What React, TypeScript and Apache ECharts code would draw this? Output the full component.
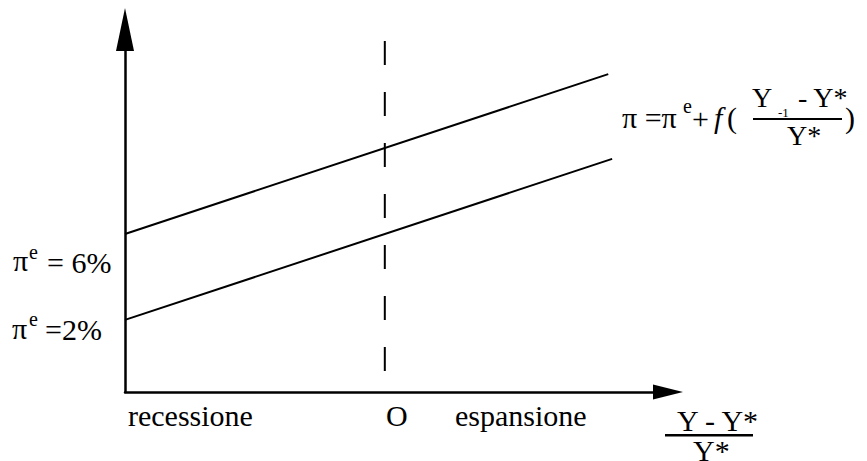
import React, { useEffect, useRef } from "react";
import * as echarts from "echarts";

// Output gap axis: (Y - Y*)/Y*, O = 0
const xRange = [-1, 1.09];
const yRange = [0, 10];
// Phillips curve with expected inflation 6% (upper) and 2% (lower)
const upperCurve: [number, number][] = [
  [-1, 4.36],
  [0.86, 8.77],
];
const lowerCurve: [number, number][] = [
  [-1, 1.99],
  [0.875, 6.43],
];
const zeroLine: [number, number][] = [
  [0, 0.58],
  [0, 9.77],
];
const bottomLabels = ["recessione", "O", "espansione"];

function txt(text: string, x: number, y: number, size = 30, italic = false) {
  const style: any = {
    text,
    fill: "#000",
    fontFamily: "Liberation Serif",
    fontSize: size,
    verticalAlign: "middle",
    align: "left",
  };
  if (italic) style.fontStyle = "italic";
  return { type: "text", x, y, style };
}

function bar(x: number, y: number, w: number, h: number) {
  return { type: "rect", shape: { x, y, width: w, height: h }, style: { fill: "#000" } };
}

export default function App() {
  const ref = useRef<HTMLDivElement>(null);
  useEffect(() => {
    if (!ref.current) return;
    const chart = echarts.init(ref.current, undefined, { renderer: "svg" });
    const axisLineStyle = { color: "#000", width: 2.5 };
    chart.setOption({
      animation: false,
      grid: { left: 125, right: 199, top: 29.5, bottom: 69 },
      xAxis: {
        type: "value",
        min: xRange[0],
        max: xRange[1],
        axisLine: {
          show: true,
          onZero: false,
          symbol: ["none", "triangle"],
          symbolSize: [15, 30],
          lineStyle: axisLineStyle,
        },
        axisTick: { show: false },
        axisLabel: { show: false },
        splitLine: { show: false },
      },
      yAxis: {
        type: "value",
        min: yRange[0],
        max: yRange[1],
        axisLine: {
          show: true,
          onZero: false,
          symbol: ["none", "triangle"],
          symbolSize: [18, 43],
          lineStyle: axisLineStyle,
        },
        axisTick: { show: false },
        axisLabel: { show: false },
        splitLine: { show: false },
      },
      series: [
        { type: "line", data: upperCurve, symbol: "none", lineStyle: { color: "#000", width: 2 } },
        { type: "line", data: lowerCurve, symbol: "none", lineStyle: { color: "#000", width: 2 } },
        { type: "line", data: zeroLine, symbol: "none", lineStyle: { color: "#000", width: 2, type: [24, 27] } },
      ],
      graphic: [
        // bottom labels
        txt(bottomLabels[0], 128, 415),
        txt(bottomLabels[1], 386, 415),
        txt(bottomLabels[2], 455, 415),
        // bottom-right fraction
        txt("Y - Y*", 677, 420),
        bar(665, 434, 88, 2.5),
        txt("Y*", 693, 450),
        // left labels
        txt("π", 13, 260),
        txt("e", 29, 252, 20),
        txt("= 6%", 47, 262),
        txt("π", 12, 328),
        txt("e", 29, 319, 20),
        txt("=2%", 45, 329),
        // formula
        txt("π =π", 622, 117),
        txt("e", 683, 106, 20),
        txt("+", 692, 118),
        txt("f", 714, 117, 30, true),
        txt("(", 727, 117),
        txt("Y", 752, 97.5, 28),
        txt("-1", 778, 112, 13),
        txt("- Y*", 798, 97.5, 28),
        bar(753, 118, 89, 2),
        txt("Y*", 787, 135, 28),
        txt(")", 845, 117),
      ],
    });
    return () => chart.dispose();
  }, []);
  return <div ref={ref} style={{ position: "absolute", left: 0, top: 0, width: 867, height: 461 }} />;
}
